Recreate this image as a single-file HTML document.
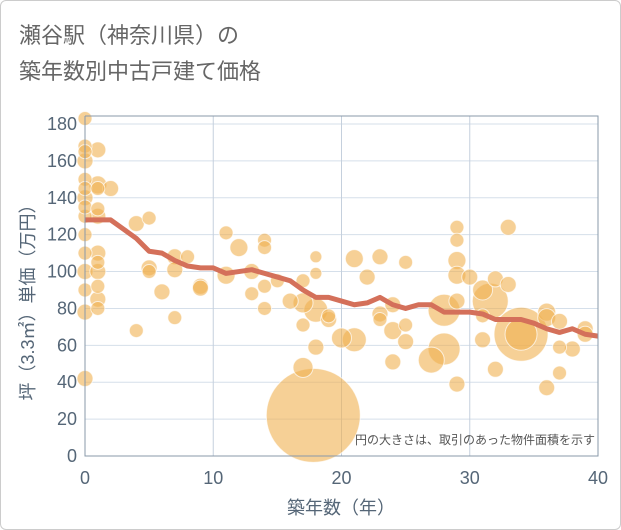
<!DOCTYPE html>
<html><head><meta charset="utf-8"><style>
body{margin:0;background:#fff;font-family:"Liberation Sans","Noto Sans CJK JP",sans-serif;}
#wrap{position:relative;width:619px;height:528px;border:1px solid #ccc;border-radius:6px;overflow:hidden;}
</style></head><body>
<div id="wrap">
<svg id="chart" width="619" height="528"></svg>
</div>
<script>
const bubbleX=[0,0,0,0,0,0,0,0,0,0,0,0,0,0,0,1,1,1,1,1,1,1,1,1,1,1,2,4,4,5,5,5,6,7,7,7,8,9,9,11,11,12,13,13,14,14,14,14,15,16,17,17,17,17,17.8,18,18,18,18,19,19,20,21,23,25,22,24,23,23,24,25,25,21,24,28,27,28,29,29,29,29,29,30,31,31.6,32,33,33,31,31,32,29,34,34,36,36,37,37,38,37,36,39,39];
const bubbleY=[183,168,160,150,140,130,120,110,100,90,78,42,135,145,165,166,147,145,134,130,110,105,100,92,85,80,145,126,68,129,102,100,89,108,101,75,108,92,91,121,98,113,100,88,117,113,92,80,95,84,95,83,71,48,22,108,99,79,59,76,74,64,107,108,105,97,82,77,74,68,71,62,63,51,58,52,79,84,124,117,106,98,97,90,84,96,93,124,76,63,47,39,66,66,78,75,73,59,58,45,37,69,66];
const bubbleR=[7,7,8,7,8,7,7,7,8,7,8,8,7,7,7,8,9,7,7,8,8,7,8,7,8,7,8,8,7,7,8,7,8,8,8,7,7,8,8,7,9,9,8,7,7,7,7,7,7,8,7,10,7,10,47,6,6,12,8,7,8,10,9,8,7,8,8,8,7,9,7,8,12,8,16,13,16,8,7,7,9,9,8,10,18,8,8,8,7,8,8,8,27,16,9,9,8,7,8,7,8,8,8];
const trendX=[0,1,2,3,4,5,6,7,8,9,10,11,12,13,14,15,16,17,18,19,20,21,22,23,24,25,26,27,28,29,30,31,32,33,34,35,36,37,38,39,40];
const trendY=[128,128,128,123,118,111,110,106,103,102,102,99,100,101,99,97,95,90,86,86,84,82,83,86,82,80,82,82,78,78,78,77,74,74,74,72,69,67,69,66,65];
const xTicks=[0,10,20,30,40];
const yTicks=[0,20,40,60,80,100,120,140,160,180];
const L=84,R=597,T=115,B=455;
const sx=v=>L+v*(R-L)/40, sy=v=>B-v*(B-123)/180;
const svg=document.getElementById('chart');const NS='http://www.w3.org/2000/svg';
function mk(t,a,p){const e=document.createElementNS(NS,t);for(const k in a)e.setAttribute(k,a[k]);(p||svg).appendChild(e);return e;}
function tx(x,y,s,a){const e=mk('text',Object.assign({x:x,y:y},a));e.textContent=s;return e;}
let t;
t=tx(18,42,'瀬谷駅（神奈川県）の',{'font-size':22,fill:'#666'});
t=tx(18,78,'築年数別中古戸建て価格',{'font-size':22,fill:'#666'});
const g=mk('g',{});
yTicks.forEach(v=>{mk('line',{x1:L,x2:R,y1:sy(v),y2:sy(v),stroke:'#d5dfea','stroke-width':1},g);
 const e=tx(L-8,sy(v)+6,v,{'font-size':18,fill:'#556677','text-anchor':'end'});});
xTicks.forEach(v=>{if(v>0&&v<40)mk('line',{x1:sx(v),x2:sx(v),y1:T,y2:B,stroke:'#c5d0dd','stroke-width':1},g);
 const e=tx(sx(v),483,v,{'font-size':18,fill:'#556677','text-anchor':'middle'});});
const bg=mk('g',{});
bubbleX.map((x,i)=>i).sort((a,b)=>bubbleR[b]-bubbleR[a]).forEach(i=>{
 const c=mk('circle',{cx:sx(bubbleX[i]),cy:sy(bubbleY[i]),r:bubbleR[i],fill:'rgba(240,176,80,0.6)',stroke:'rgba(255,255,255,0.7)','stroke-width':1},bg);
 });
const pl=mk('polyline',{points:trendX.map((x,i)=>sx(x)+','+sy(trendY[i])).join(' '),fill:'none',stroke:'#d4705a','stroke-width':5,'stroke-linejoin':'round'});

const ax=mk('path',{d:`M${L},${T}V${B}H${R}V${T}H${L}`,fill:'none',stroke:'#8899aa','stroke-width':1});

t=tx(594,443,'円の大きさは、取引のあった物件面積を示す',{'font-size':12,fill:'#555','text-anchor':'end'});
t=tx(340,513,'築年数（年）',{'font-size':18,fill:'#556677','text-anchor':'middle'});
t=tx(0,0,'坪（3.3㎡）単価（万円）',{'font-size':18,fill:'#556677','text-anchor':'middle',transform:'translate(33,297) rotate(-90)'});
</script>
</body></html>
